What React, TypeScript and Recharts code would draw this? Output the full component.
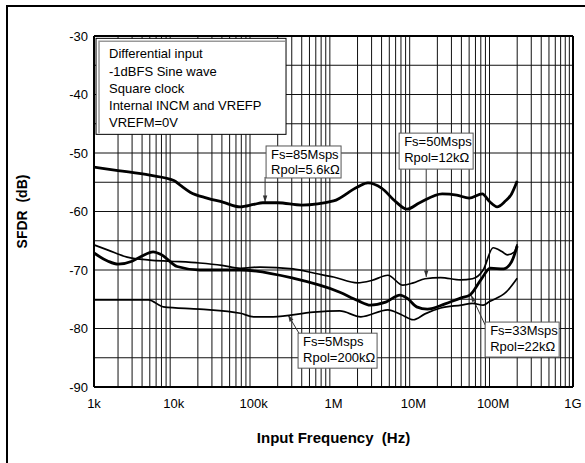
import { LineChart, Line, XAxis, YAxis, ReferenceLine, ReferenceDot } from "recharts";

const FONT = '"Liberation Sans", Arial, Helvetica, sans-serif';

const X_TICKS = [1e3, 1e4, 1e5, 1e6, 1e7, 1e8, 1e9];
const X_TICK_LABELS = ["1k", "10k", "100k", "1M", "10M", "100M", "1G"];
const Y_TICKS = [-90, -80, -70, -60, -50, -40, -30];
const Y_GRID = [-85, -80, -75, -70, -65, -60, -55, -50, -45, -40, -35];
const X_GRID_STEPS = [2, 3, 4, 5, 6, 7, 8, 9];

// Fs=85Msps, Rpol=5.6k (thick)
const FREQ_85 = [1e3, 2e3, 5e3, 1e4, 1.2e4, 1.6e4, 2.6e4, 4.1e4, 6.8e4, 1e5, 1.3e5, 2e5, 4e5, 1e6, 2e6, 2.7e6, 4e6, 6e6, 8.3e6, 1.2e7, 2.3e7, 3.5e7, 5e7, 7.3e7, 9e7, 1.12e8, 1.4e8, 1.7e8, 2e8];
const SFDR_85 = [-52.4, -53.0, -53.8, -54.7, -55.5, -56.7, -57.7, -58.4, -59.2, -58.8, -58.5, -58.5, -58.9, -58.2, -55.8, -55.1, -56.0, -58.3, -59.6, -58.5, -57.0, -57.2, -57.7, -57.0, -58.3, -59.2, -58.3, -57.0, -54.8];

// Fs=50Msps, Rpol=12k (thin)
const FREQ_50 = [1e3, 1.5e3, 2.6e3, 5e3, 9e3, 2.1e4, 4e4, 6.8e4, 1.2e5, 3.1e5, 6e5, 1e6, 2e6, 3e6, 4.8e6, 7.4e6, 1e7, 1.4e7, 2.2e7, 3.9e7, 5.5e7, 7.5e7, 1e8, 1.3e8, 1.5e8, 1.85e8, 2e8];
const SFDR_50 = [-65.7, -66.6, -67.8, -68.3, -68.5, -68.8, -69.2, -69.7, -69.5, -69.8, -70.6, -71.2, -72.2, -71.8, -70.9, -72.6, -72.2, -71.5, -71.3, -71.7, -71.5, -70.0, -66.2, -66.9, -67.4, -66.9, -65.6];

// Fs=33Msps, Rpol=22k (thick)
const FREQ_33 = [1e3, 1.5e3, 2e3, 3e3, 4e3, 5.5e3, 7e3, 1.1e4, 2.1e4, 6.8e4, 3.1e5, 1.2e6, 2e6, 2.9e6, 4.5e6, 6.8e6, 8.5e6, 1.1e7, 1.5e7, 2.5e7, 3.9e7, 5.1e7, 7e7, 9.2e7, 1.35e8, 1.7e8, 2e8];
const SFDR_33 = [-67.1, -68.5, -69.0, -68.5, -67.6, -66.9, -67.4, -69.4, -70.0, -70.0, -71.4, -73.8, -75.2, -76.0, -75.5, -74.3, -74.9, -76.3, -76.7, -75.8, -74.8, -74.3, -71.7, -69.7, -69.8, -68.6, -65.9];

// Fs=5Msps, Rpol=200k (thin)
const FREQ_5 = [1e3, 2e3, 4.8e3, 7.4e3, 2.1e4, 6.8e4, 1e5, 1.75e5, 5.6e5, 1.2e6, 2.2e6, 4.8e6, 7e6, 1e7, 1.4e7, 2.2e7, 4e7, 5.5e7, 7.5e7, 9e7, 1.45e8, 2e8];
const SFDR_5 = [-75.1, -75.1, -75.1, -76.3, -76.7, -77.4, -78.0, -78.0, -77.2, -77.0, -78.0, -76.8, -77.6, -78.5, -77.5, -76.5, -76.0, -75.7, -76.0, -75.4, -73.8, -71.4];

const LEGEND_LINES = ["Differential input", "-1dBFS Sine wave", "Square clock", "Internal INCM and VREFP", "VREFM=0V"];

const toPoints = (freq: number[], db: number[]) => freq.map((f, i) => ({ f, v: db[i] }));

const series = [
  { key: "fs85", data: toPoints(FREQ_85, SFDR_85), width: 2.8 },
  { key: "fs50", data: toPoints(FREQ_50, SFDR_50), width: 1.7 },
  { key: "fs33", data: toPoints(FREQ_33, SFDR_33), width: 2.8 },
  { key: "fs5", data: toPoints(FREQ_5, SFDR_5), width: 1.7 },
];

// annotation boxes, anchored at their top-left corner in data units
const notes = [
  { f: 1.43e5, v: -48.8, w: 75, h: 32, lines: ["Fs=85Msps", "Rpol=5.6k\u03a9"] },
  { f: 6.64e6, v: -46.6, w: 74, h: 36, lines: ["Fs=50Msps", "Rpol=12k\u03a9"] },
  { f: 7.94e7, v: -78.9, w: 74, h: 35, lines: ["Fs=33Msps", "Rpol=22k\u03a9"] },
  { f: 3.6e5, v: -80.8, w: 79, h: 35, lines: ["Fs=5Msps", "Rpol=200k\u03a9"] },
];

// arrows from box to curve: [from, to]
const arrows = [
  [{ x: 1.39e5, y: -54.1 }, { x: 1.39e5, y: -58.4 }],
  [{ x: 1.45e7, y: -52.7 }, { x: 1.45e7, y: -71.2 }],
  [{ x: 7.94e7, y: -79.4 }, { x: 5.3e7, y: -74.3 }],
  [{ x: 3.81e5, y: -81.1 }, { x: 2.7e5, y: -77.7 }],
];

const minorX: number[] = [];
X_TICKS.slice(0, -1).forEach((d) => X_GRID_STEPS.forEach((k) => minorX.push(d * k)));

const Arrow = (props: any) => {
  const { x1, y1, x2, y2 } = props;
  const a = Math.atan2(y2 - y1, x2 - x1);
  const len = 7;
  const spread = 0.32;
  const p1 = `${x2 - len * Math.cos(a - spread)},${y2 - len * Math.sin(a - spread)}`;
  const p2 = `${x2 - len * Math.cos(a + spread)},${y2 - len * Math.sin(a + spread)}`;
  return (
    <g>
      <line x1={x1} y1={y1} x2={x2} y2={y2} stroke="#333" strokeWidth={1} />
      <polygon points={`${x2},${y2} ${p1} ${p2}`} fill="#333" />
    </g>
  );
};

const NoteBox = ({ cx, cy, w, h, lines }: any) => (
  <g>
    <rect x={cx} y={cy} width={w} height={h} fill="#fff" stroke="#555" strokeWidth={1} />
    {lines.map((t: string, i: number) => (
      <text key={t} x={cx + 5} y={cy + 13 + i * 15.5} fontSize={13} fontFamily={FONT} fill="#000">
        {t}
      </text>
    ))}
  </g>
);

const LegendBox = ({ cx, cy }: any) => (
  <g>
    <rect x={cx} y={cy} width={190} height={96} fill="#fff" stroke="#000" strokeWidth={1} />
    <polyline points={`${cx + 3},${cy + 95} ${cx + 3},${cy + 3} ${cx + 189},${cy + 3}`} fill="none" stroke="#999" strokeWidth={1.5} />
    {LEGEND_LINES.map((t, i) => (
      <text key={t} x={cx + 13} y={cy + 20 + i * 17.2} fontSize={13} fontFamily={FONT} fill="#000">
        {t}
      </text>
    ))}
  </g>
);

const SfdrChart = () => (
  <div style={{ position: "absolute", left: 0, top: 0, width: 585, height: 463, background: "#fff" }}>
    <div style={{ position: "absolute", left: 6, top: 5, width: 579, height: 458, borderLeft: "2px solid #000", borderTop: "2px solid #000" }} />
    <LineChart width={585} height={463} margin={{ top: 36, right: 12, left: 0, bottom: 0 }} style={{ position: "absolute", left: 0, top: 0 }}>
      <XAxis
        dataKey="f"
        type="number"
        scale="log"
        domain={[1e3, 1e9]}
        ticks={X_TICKS}
        allowDataOverflow
        height={76}
        tickLine={false}
        tickSize={0}
        tickMargin={12}
        axisLine={{ stroke: "#000", strokeWidth: 2 }}
        tick={{ fontSize: 13, fontFamily: FONT, fill: "#000" }}
        tickFormatter={(v: number) => X_TICK_LABELS[X_TICKS.indexOf(v)] ?? ""}
        label={{
          content: ({ viewBox }: any) => (
            <text x={viewBox.x + viewBox.width / 2} y={viewBox.y + 56} textAnchor="middle" fontSize={15} fontWeight="bold" fontFamily={FONT} fill="#000">
              Input Frequency{"\u00a0\u00a0"}(Hz)
            </text>
          ),
        }}
      />
      <YAxis
        type="number"
        domain={[-90, -30]}
        ticks={Y_TICKS}
        width={94}
        allowDataOverflow
        tickLine={false}
        tickSize={0}
        tickMargin={6}
        axisLine={{ stroke: "#000", strokeWidth: 2 }}
        tick={{ fontSize: 13, fontFamily: FONT, fill: "#000" }}
        label={{
          content: ({ viewBox }: any) => {
            const cx = 27;
            const cy = viewBox.y + viewBox.height / 2;
            return (
              <text x={cx} y={cy} transform={`rotate(-90 ${cx} ${cy})`} textAnchor="middle" fontSize={14} fontWeight="bold" fontFamily={FONT} fill="#000">
                SFDR{"\u00a0\u00a0"}(dB)
              </text>
            );
          },
        }}
      />

      {minorX.map((x) => (
        <ReferenceLine key={`gx${x}`} x={x} stroke="#111" strokeWidth={1} />
      ))}
      {Y_GRID.map((y) => (
        <ReferenceLine key={`gy${y}`} y={y} stroke="#111" strokeWidth={1} />
      ))}
      <ReferenceLine y={-30} stroke="#000" strokeWidth={2} />
      <ReferenceLine x={1e9} stroke="#000" strokeWidth={2} />

      <ReferenceDot x={1.06e3} y={-30.4} r={0} shape={(p: any) => <LegendBox cx={p.cx} cy={p.cy} />} />
      {notes.map((n) => (
        <ReferenceDot key={n.lines[0]} x={n.f} y={n.v} r={0} shape={(p: any) => <NoteBox cx={p.cx} cy={p.cy} w={n.w} h={n.h} lines={n.lines} />} />
      ))}
      {arrows.map((seg, i) => (
        <ReferenceLine key={`ar${i}`} segment={seg} shape={(p: any) => <Arrow {...p} />} />
      ))}

      {series.map((s) => (
        <Line
          key={s.key}
          data={s.data}
          dataKey="v"
          type="monotone"
          stroke="#000"
          strokeWidth={s.width}
          dot={false}
          isAnimationActive={false}
        />
      ))}
    </LineChart>
  </div>
);

export default function App() {
  return <SfdrChart />;
}
